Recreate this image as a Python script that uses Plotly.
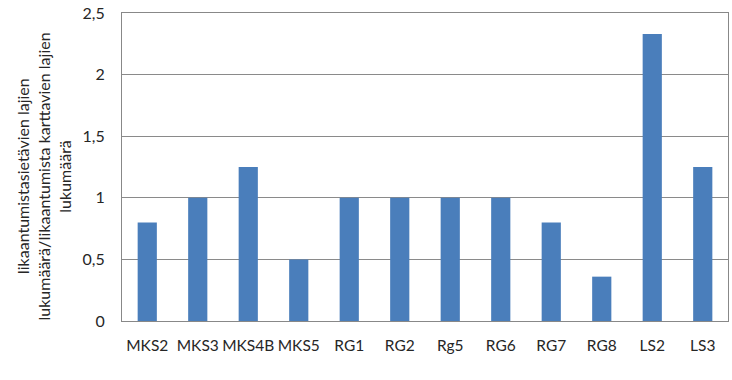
import plotly.graph_objects as go

categories = ["MKS2", "MKS3", "MKS4B", "MKS5", "RG1", "RG2", "Rg5", "RG6", "RG7", "RG8", "LS2", "LS3"]
values = [0.8, 1.0, 1.25, 0.5, 1.0, 1.0, 1.0, 1.0, 0.8, 0.36, 2.33, 1.25]
y_ticks = [0, 0.5, 1, 1.5, 2, 2.5]
y_labels = ["0", "0,5", "1", "1,5", "2", "2,5"]

fig = go.Figure(go.Bar(x=categories, y=values, marker_color="#4A7EBB", marker_line_width=0))

fig.update_layout(
    width=732, height=380,
    margin=dict(l=122, r=3, t=11, b=59),
    paper_bgcolor="white", plot_bgcolor="white",
    bargap=0.62,
    showlegend=False,
    font=dict(family="Lato, Open Sans, sans-serif", size=16, color="#262626"),
)
fig.update_xaxes(showline=True, linecolor="#888", linewidth=1, mirror=True,
                 ticks="", tickfont=dict(size=15.5), ticklabelstandoff=10, tickangle=0)
fig.update_yaxes(range=[0, 2.5], tickvals=y_ticks, ticktext=y_labels,
                 showgrid=True, gridcolor="#8a8a8a", gridwidth=1,
                 showline=True, linecolor="#888", linewidth=1, mirror=True,
                 ticks="", tickfont=dict(size=16), ticklabelstandoff=13, zeroline=False,
                 ticklabeloverflow="allow")
fig.add_annotation(
    text="Iikaantumistasietävien lajien<br>lukumäärä/Iikaantumista karttavien lajien<br>lukumäärä",
    xref="paper", yref="paper", x=-0.13, y=0.47, textangle=-90, showarrow=False,
    xanchor="center", yanchor="middle", font=dict(size=16, color="#262626"),
)
fig.write_html("out.html", post_script="document.body.style.margin='0';",
               config={"displayModeBar": False})
